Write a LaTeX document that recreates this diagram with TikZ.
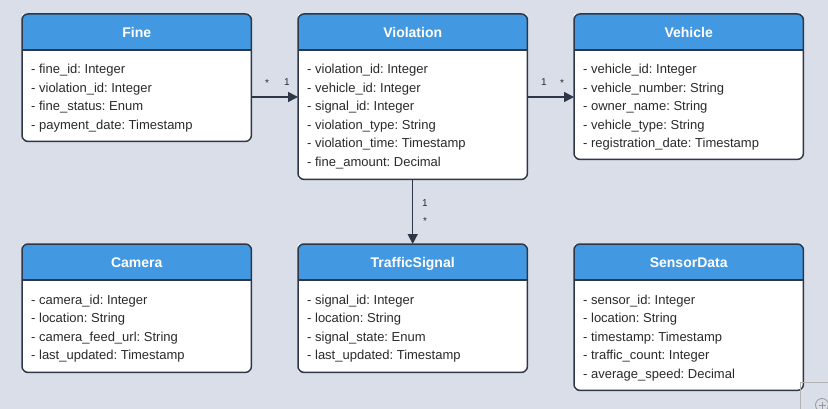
\documentclass[tikz,border=0pt]{standalone}
\usepackage{fontspec}
\setmainfont{Liberation Sans}
\usetikzlibrary{arrows.meta,calc}
\frenchspacing
\definecolor{bg}{HTML}{D9DEE8}
\definecolor{hdr}{HTML}{4299E1}
\definecolor{edgec}{HTML}{2D3748}
\definecolor{txt}{HTML}{2A2A2A}
\tikzset{
  classbox/.style={fill=white, minimum width=229pt, inner sep=0pt, anchor=north west},
  boxborder/.style={draw=edgec, line width=1.5pt, rounded corners=6pt},
  titletext/.style={text=white, inner sep=0pt, font=\bfseries\fontsize{14}{16}\selectfont, text height=10pt, text depth=3pt},
  attr/.style={anchor=west, inner sep=0pt, text=txt, font=\fontsize{13}{15}\selectfont, text height=9pt, text depth=3pt},
  mult/.style={font=\fontsize{10}{12}\selectfont, text=txt, inner sep=0pt},
  assoc/.style={draw=edgec, line width=1.5pt, -{Triangle[length=10pt,width=10pt]}},
  uiline/.style={draw=gray!60, line width=0.8pt},
}
% #1 name, #2 x, #3 y, #4 height, #5 title, #6 attributes
\newcommand\umlclass[6]{%
  \node[classbox, minimum height=#4pt] (#1) at (#2,#3) {};
  \fill[hdr, rounded corners=6pt] (#1.north west) rectangle ($(#1.north east)+(0,36)$);
  \fill[hdr] ($(#1.north west)+(0,20)$) rectangle ($(#1.north east)+(0,36)$);
  \draw[edgec, line width=1.5pt] ($(#1.north west)+(0,36)$) -- ($(#1.north east)+(0,36)$);
  \draw[boxborder] (#1.north west) rectangle (#1.south east);
  \node[titletext] (#1-t) at ($(#1.north)+(0,20)$) {#5};
  \foreach \a [count=\i from 0] in {#6}
    \node[attr] (#1-a\i) at ($(#1.north west)+(9,57+18.5*\i)$) {\a};
}
\begin{document}
\begin{tikzpicture}[x=1pt,y=-1pt]
\useasboundingbox (0,0) rectangle (828,409);
\fill[bg] (0,0) rectangle (828,409);

\umlclass{fine}{22}{14}{127}{Fine}{- fine\_id: Integer, - violation\_id: Integer, - fine\_status: Enum, - payment\_date: Timestamp}
\umlclass{viol}{298}{14}{165}{Violation}{- violation\_id: Integer, - vehicle\_id: Integer, - signal\_id: Integer, - violation\_type: String, - violation\_time: Timestamp, - fine\_amount: Decimal}
\umlclass{veh}{574}{14}{145}{Vehicle}{- vehicle\_id: Integer, - vehicle\_number: String, - owner\_name: String, - vehicle\_type: String, - registration\_date: Timestamp}
\umlclass{cam}{22}{244}{128}{Camera}{- camera\_id: Integer, - location: String, - camera\_feed\_url: String, - last\_updated: Timestamp}
\umlclass{sig}{298}{244}{128}{TrafficSignal}{- signal\_id: Integer, - location: String, - signal\_state: Enum, - last\_updated: Timestamp}
\umlclass{sens}{574}{244}{146}{SensorData}{- sensor\_id: Integer, - location: String, - timestamp: Timestamp, - traffic\_count: Integer, - average\_speed: Decimal}

\draw[assoc] ($(fine.north east)+(0,83)$) -- ($(viol.north west)+(0,83)$);
\draw[assoc] ($(viol.north east)+(0,83)$) -- ($(veh.north west)+(0,83)$);
\draw[assoc] (viol.south) -- (sig.north);

\node[mult] (m1) at (267,83) {*};
\node[mult] (m2) at (287,82) {1};
\node[mult] (m3) at (544,82) {1};
\node[mult] (m4) at (562,83) {*};
\node[mult] (m5) at (425,203) {1};
\node[mult] (m6) at (425,221) {*};

\draw[uiline] (800,409) -- (800,382.5) -- (828,382.5);
\draw[uiline, draw=gray!80] (822,405) circle (6.5);
\draw[uiline, draw=gray!80] (818.5,405) -- (825.5,405) (822,401.5) -- (822,408.5);
\end{tikzpicture}
\end{document}
